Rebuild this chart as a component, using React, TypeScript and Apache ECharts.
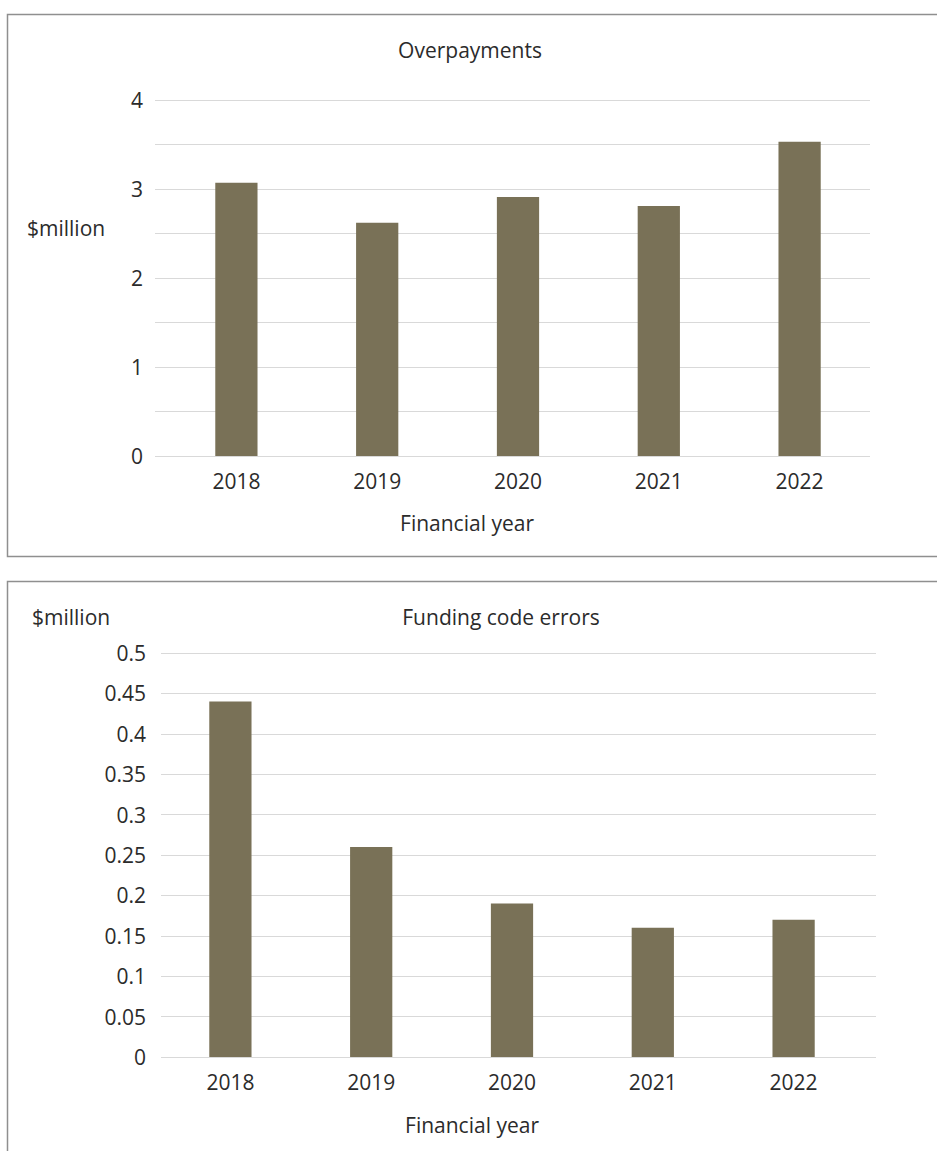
import React, { useEffect, useRef } from "react";
import * as echarts from "echarts";

const years = ["2018", "2019", "2020", "2021", "2022"];
const overpayments = [3.07, 2.62, 2.91, 2.81, 3.53];
const fundingCodeErrors = [0.44, 0.26, 0.19, 0.16, 0.17];

const FONT = "'Open Sans', 'Noto Sans', sans-serif";
const WEIGHT = 400;
const TEXT = "#2b2b2b";
const GRIDC = "#d9d9d9";
const BAR = "#797157";
const BORDER = "#8f8f8f";

export default function App() {
  const ref = useRef<HTMLDivElement>(null);
  useEffect(() => {
    if (!ref.current) return;
    const chart = echarts.init(ref.current, undefined, { renderer: "svg" });
    const txt = { color: TEXT, fontSize: 21, fontFamily: FONT, fontWeight: WEIGHT };
    const gtxt = (text: string, x: number, y: number, align: string) => ({
      type: "text",
      x,
      y,
      silent: true,
      style: {
        text,
        fill: TEXT,
        fontSize: 21,
        fontFamily: FONT,
        fontWeight: WEIGHT,
        textAlign: align,
        textVerticalAlign: "middle",
      },
    });
    chart.setOption({
      animation: false,
      backgroundColor: "#ffffff",
      title: [
        {
          text: "Overpayments",
          left: 465,
          top: 34,
          textAlign: "center",
          textStyle: { ...txt },
        },
        {
          text: "Funding code errors",
          left: 496,
          top: 601,
          textAlign: "center",
          textStyle: { ...txt },
        },
      ],
      grid: [
        // gridline grids
        { left: 155, right: 67, top: 100, height: 356 },
        { left: 161, right: 61, top: 653, height: 404 },
        // bar grids
        { left: 166, right: 67, top: 100, height: 356 },
        { left: 160, right: 73, top: 653, height: 404 },
      ],
      xAxis: [
        { type: "category", gridIndex: 0, data: years, show: false },
        { type: "category", gridIndex: 1, data: years, show: false },
        {
          type: "category",
          gridIndex: 2,
          data: years,
          axisTick: { show: false },
          axisLine: { show: false },
          axisLabel: { ...txt, margin: 14 },
        },
        {
          type: "category",
          gridIndex: 3,
          data: years,
          axisTick: { show: false },
          axisLine: { show: false },
          axisLabel: { ...txt, margin: 14 },
        },
      ],
      yAxis: [
        {
          type: "value",
          gridIndex: 0,
          min: 0,
          max: 4,
          interval: 0.5,
          axisLine: { show: false },
          axisTick: { show: false },
          splitLine: { lineStyle: { color: GRIDC, width: 1 } },
          axisLabel: {
            ...txt,
            margin: 12,
            formatter: (v: number) => (Number.isInteger(v) ? String(v) : ""),
          },
        },
        {
          type: "value",
          gridIndex: 1,
          min: 0,
          max: 0.5,
          interval: 0.05,
          axisLine: { show: false },
          axisTick: { show: false },
          splitLine: { lineStyle: { color: GRIDC, width: 1 } },
          axisLabel: {
            ...txt,
            margin: 15,
            formatter: (v: number) => String(Math.round(v * 100) / 100),
          },
        },
        { type: "value", gridIndex: 2, min: 0, max: 4, interval: 0.5, show: false, splitLine: { show: false } },
        { type: "value", gridIndex: 3, min: 0, max: 0.5, interval: 0.05, show: false, splitLine: { show: false } },
      ],
      series: [
        {
          type: "bar",
          xAxisIndex: 2,
          yAxisIndex: 2,
          data: overpayments,
          barWidth: "30%",
          itemStyle: { color: BAR },
        },
        {
          type: "bar",
          xAxisIndex: 3,
          yAxisIndex: 3,
          data: fundingCodeErrors,
          barWidth: "30%",
          itemStyle: { color: BAR },
        },
      ],
      graphic: [
        {
          type: "rect",
          shape: { x: 7.5, y: 14.5, width: 960, height: 542 },
          style: { fill: "none", stroke: BORDER, lineWidth: 1.5 },
          silent: true,
        },
        {
          type: "rect",
          shape: { x: 7.5, y: 581.5, width: 960, height: 620 },
          style: { fill: "none", stroke: BORDER, lineWidth: 1.5 },
          silent: true,
        },
        gtxt("$million", 27, 228, "left"),
        gtxt("$million", 32, 617, "left"),
        gtxt("Financial year", 467, 523, "center"),
        gtxt("Financial year", 472, 1125, "center"),
      ],
    });
    return () => chart.dispose();
  }, []);
  return (
    <div
      ref={ref}
      style={{ position: "fixed", left: 0, top: 0, width: 937, height: 1151, background: "#fff" }}
    />
  );
}
